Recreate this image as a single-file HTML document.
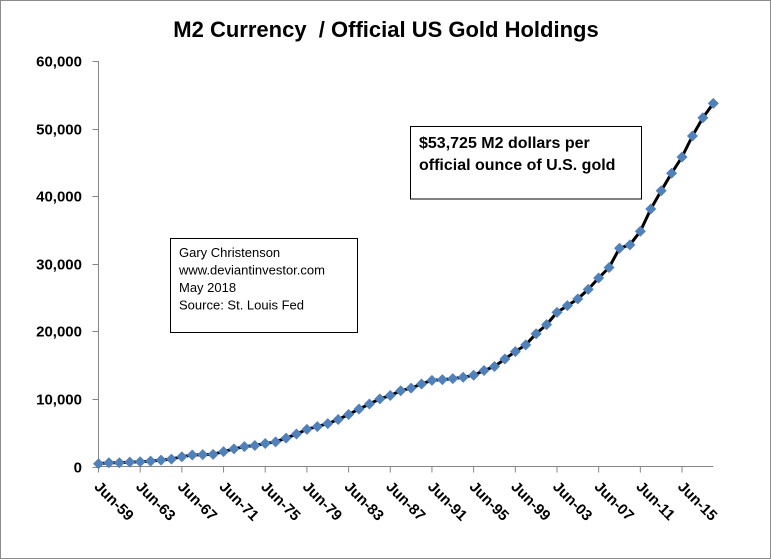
<!DOCTYPE html>
<html><head><meta charset="utf-8"><style>
html,body{margin:0;padding:0;background:#fff}
svg{display:block}
text{font-family:"Liberation Sans",sans-serif}
</style></head><body>
<svg width="771" height="560" viewBox="0 0 771 560">
<rect x="0.5" y="0.5" width="770" height="558" fill="#fff" stroke="#8c8c8c"/>
<text x="386" y="37" text-anchor="middle" font-size="22" font-weight="bold">M2 Currency &#160;/ Official US Gold Holdings</text>
<g id="axes"></g>
<g id="series"></g>
<g>
<rect x="170.5" y="238.5" width="187" height="94" fill="#fff" stroke="#000"/>
<text x="179" y="257" font-size="13">Gary Christenson</text>
<text x="179" y="274.5" font-size="13">www.deviantinvestor.com</text>
<text x="179" y="292" font-size="13">May 2018</text>
<text x="179" y="309.5" font-size="13">Source: St. Louis Fed</text>
</g>
<g>
<rect x="410.5" y="126.5" width="231" height="72.5" fill="#fff" stroke="#000"/>
<text x="419" y="148" font-size="16" font-weight="bold">$53,725 M2 dollars per</text>
<text x="419" y="170" font-size="16" font-weight="bold">official ounce of U.S. gold</text>
</g>
</svg>
<script>
const years = [];
for (let y = 1959; y <= 2018; y++) years.push(y);
const values = [400,550,550,650,700,800,950,1100,1450,1700,1750,1800,2200,2600,2950,3100,3400,3650,4200,4800,5500,5900,6350,6950,7700,8500,9250,10000,10500,11200,11600,12200,12750,12850,13000,13200,13500,14200,14800,15900,17000,18000,19650,21000,22800,23800,24800,26200,27900,29450,32300,32800,34800,38100,40800,43400,45800,48900,51600,53725];
const yTicks = [0,10000,20000,30000,40000,50000,60000];
const yTickLabels = ["0","10,000","20,000","30,000","40,000","50,000","60,000"];
const xTickLabels = ["Jun-59","Jun-63","Jun-67","Jun-71","Jun-75","Jun-79","Jun-83","Jun-87","Jun-91","Jun-95","Jun-99","Jun-03","Jun-07","Jun-11","Jun-15"];

const NS = "http://www.w3.org/2000/svg";
const X0 = 98.5, STEP = 10.42, Y0 = 466.5, YTOP = 61, YMAX = 60000;
function xs(i){ return X0 + i*STEP; }
function ys(v){ return Y0 - (v/YMAX)*(Y0-YTOP); }
function mk(tag, attrs, parent){ const e=document.createElementNS(NS,tag); for(const k in attrs) e.setAttribute(k,attrs[k]); parent.appendChild(e); return e; }

const axes = document.getElementById('axes');
const yAxis = mk('line',{x1:X0,y1:YTOP,x2:X0,y2:Y0,stroke:'#868686'},axes);


const xAxis = mk('line',{x1:X0,y1:Y0,x2:xs(years.length-1),y2:Y0,stroke:'#868686'},axes);


yTicks.forEach((v,k)=>{
  const yy = Math.round(ys(v))+0.5;
  const t = mk('line',{x1:X0-6,y1:yy,x2:X0,y2:yy,stroke:'#868686'},axes);
  
  
  const l = mk('text',{x:82,y:yy+5,'text-anchor':'end','font-size':'15','font-weight':'bold'},axes);
  
  
  l.textContent = yTickLabels[k];
});
xTickLabels.forEach((s,k)=>{
  const xx = xs(k*4);
  const t = mk('line',{x1:xx,y1:Y0,x2:xx,y2:Y0+6,stroke:'#868686'},axes);
  
  
  const l = mk('text',{x:xx-5,y:Y0+21,'font-size':'15','font-weight':'bold',transform:`rotate(45 ${xx-5} ${Y0+21})`},axes);
  
  
  l.textContent = s;
});

const series = document.getElementById('series');
const pts = values.map((v,i)=>xs(i).toFixed(1)+','+ys(v).toFixed(1)).join(' ');
const line = mk('polyline',{points:pts,fill:'none',stroke:'#000','stroke-width':'3','stroke-linejoin':'round'},series);


values.forEach((v,i)=>{
  const cx = xs(i), cy = ys(v), r = 5.5;
  const d = mk('polygon',{points:`${cx},${cy-r} ${cx+r},${cy} ${cx},${cy+r} ${cx-r},${cy}`,fill:'#4f81bd'},series);
  
  
});
</script>
</body></html>
